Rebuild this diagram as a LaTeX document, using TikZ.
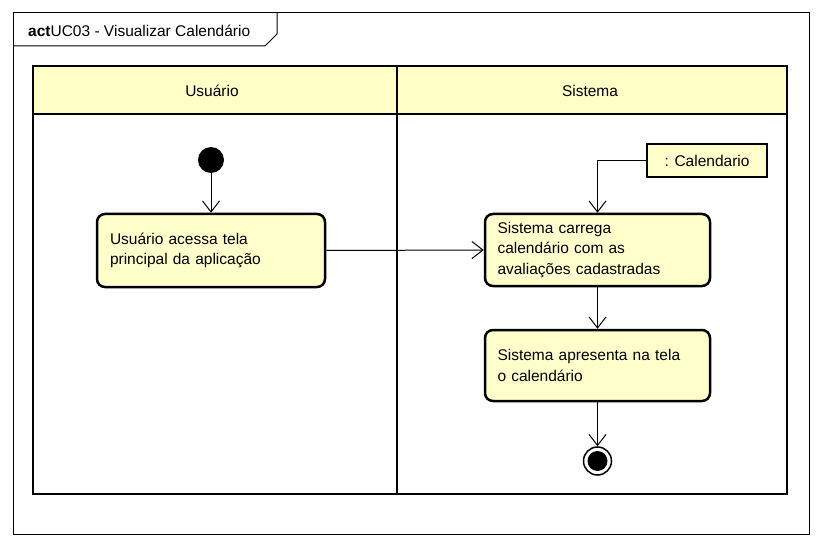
\documentclass[tikz,border=0pt]{standalone}
\usepackage{fontspec}
\setmainfont{Liberation Sans}
\usetikzlibrary{arrows.meta}
\definecolor{boxfill}{HTML}{FFFFCC}
\definecolor{headfill}{HTML}{FFFFC8}
\tikzset{
  x=1pt, y=-1pt,
  txt/.style={font=\fontsize{15.5}{20.5}\selectfont},
  action/.style={txt, draw, line width=2.5pt, rounded corners=8pt, fill=boxfill,
     align=left, inner xsep=13pt, inner ysep=0pt},
  objbox/.style={txt, draw, line width=2.5pt, fill=boxfill, inner sep=0pt},
  arr/.style={line width=1pt, -{Straight Barb[length=11pt,width=17pt,line width=1pt]}},
}
\begin{document}
\begin{tikzpicture}
\useasboundingbox (0,0) rectangle (822,548);
\fill[white] (0,0) rectangle (822,548);
% frame
\draw[line width=1pt] (13,13) rectangle (809,534);
\draw[line width=1pt] (13,46) -- (265,46) -- (277,34) -- (277,13);
\node[txt, anchor=base west, inner sep=0pt] (title) at (28,37) {\textbf{act}UC03 - Visualizar Calendário};
% swimlanes
\fill[headfill] (33,66) rectangle (787,114);
\draw[line width=2pt] (33,66) rectangle (787,494);
\draw[line width=2pt] (33,114) -- (787,114);
\draw[line width=2pt] (397,66) -- (397,494);
\node[txt] (lane1) at (212,91) {Usuário};
\node[txt] (lane2) at (590,91) {Sistema};
% nodes
\node[circle, fill=black, minimum size=26pt, inner sep=0pt] (start) at (211,160) {};
\node[action, minimum width=228pt, minimum height=73pt, text width=202pt] (b1) at (211,250.5)
  {Usuário acessa tela\\principal da aplicação};
\node[action, minimum width=225pt, minimum height=72pt, text width=200pt, inner xsep=12.5pt] (b2) at (597.5,250)
  {Sistema carrega\\calendário com as\\avaliações cadastradas};
\node[action, minimum width=225pt, minimum height=71pt, text width=200pt, inner xsep=12.5pt] (b3) at (597.5,365.5)
  {Sistema apresenta na tela\\o calendário};
\node[objbox, minimum width=120pt, minimum height=33pt] (obj) at (707,160.5) {: Calendario};
\node[circle, draw, line width=1.5pt, minimum size=28pt, inner sep=0pt] (end) at (597.5,461) {};
\fill[black] (end.center) circle (10pt);
% connectors
\draw[arr] (start) -- (b1.north -| start);
\draw[arr] (b1.east) -- (b2.west);
\draw[arr] (obj.west) -| (b2.north);
\draw[arr] (b2.south) -- (b3.north);
\draw[arr] (b3.south) -- (end.north);
\end{tikzpicture}
\end{document}
